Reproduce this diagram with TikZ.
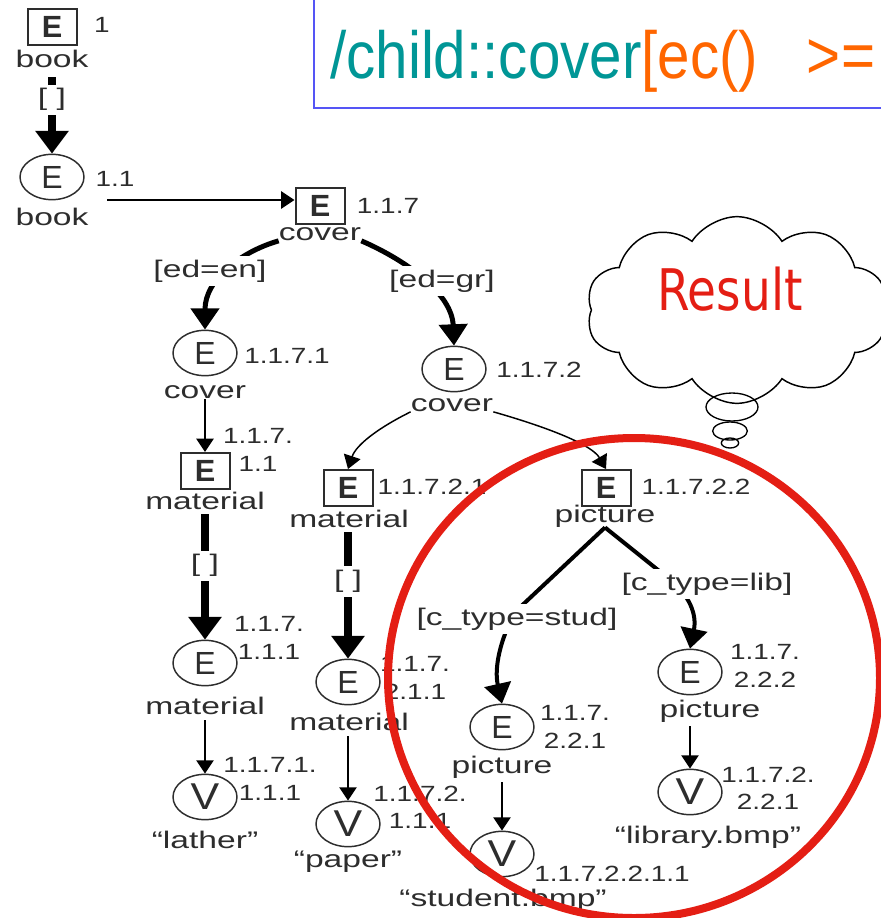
\documentclass[tikz,border=0pt]{standalone}
\usepackage{fontspec}
\setmainfont{Liberation Sans}
\newfontfamily\resultfont{DejaVu Sans}
\usepackage{graphicx}
\usetikzlibrary{arrows.meta,shapes.geometric,shapes.symbols}

% horizontally widened tree labels and node numbers
\newcommand{\wl}[1]{\scalebox{1.4}[1]{#1}}
\newcommand{\wn}[1]{\scalebox{1.27}[1]{#1}}

\definecolor{rred}{RGB}{228,30,20}
\definecolor{qteal}{RGB}{0,150,150}
\definecolor{qorange}{RGB}{255,102,0}
\definecolor{qblue}{RGB}{85,85,245}
\definecolor{ink}{RGB}{45,45,45}

\begin{document}
\begin{tikzpicture}[x=0.75pt,y=-0.75pt,
  ebox/.style={draw=ink, line width=1.5pt, minimum width=36.75pt, minimum height=27pt,
    inner sep=0pt, text=ink, font=\fontsize{23}{23}\selectfont\bfseries},
  ecirc/.style={ellipse, draw=ink, line width=1.1pt, minimum width=48pt, minimum height=34pt,
    inner sep=0pt, text=ink, font=\fontsize{24}{24}\selectfont},
  vcirc/.style={ecirc, font=\fontsize{28}{28}\selectfont},
  tag/.style={text=ink, inner sep=0pt, font=\fontsize{18}{18}\selectfont},
  num/.style={text=ink, inner sep=0pt, align=center, font=\fontsize{16.5}{20.5}\selectfont},
  cond/.style={tag, fill=white, inner xsep=2pt, inner ysep=3pt},
  thinarrow/.style={draw=black, line width=1.1pt, -{Triangle[width=13pt,length=10pt]}},
  heavy/.style={draw=black, line width=6pt, shorten <=3pt, -{Triangle[width=24pt,length=17pt]}},
  bent/.style={draw=black, line width=3.75pt, -{Triangle[width=21pt,length=16pt]}},
  branch/.style={draw=black, line width=3pt, -{Triangle[width=20pt,length=15pt]}},
  bubble/.style={ellipse, draw=black, line width=1pt, inner sep=0pt}
]
\useasboundingbox (0,0) rectangle (881,918);
\clip (0,0) rectangle (881,918);
\fill[white] (0,0) rectangle (881,918);

% query banner
\node[draw=qblue, line width=1.5pt, fill=white, anchor=north west,
      minimum width=450pt, minimum height=95.25pt, inner sep=0pt] (banner) at (313,-20) {};
\node[anchor=base west, inner sep=0pt, font=\fontsize{50}{50}\selectfont] (query) at (330,78)
  {\scalebox{0.875}[1]{\textcolor{qteal}{/child::cover}\textcolor{qorange}{[ec()\hspace{28pt} >=}}};

% thought cloud
\node[cloud, draw=black, line width=1.1pt, fill=white, cloud puffs=10, cloud puff arc=115,
      aspect=1.7, minimum width=226pt, minimum height=140pt, inner sep=0pt] (cloud) at (737,310) {};
\node[text=rred, inner sep=0pt, font=\resultfont\fontsize{43}{43}\selectfont] (result) at (730,289)
  {\scalebox{0.82}[1]{Result}};
\node[bubble, minimum width=39pt, minimum height=21pt] (bub1) at (732,407) {};
\node[bubble, minimum width=26pt, minimum height=13.5pt] (bub2) at (730,431) {};
\node[bubble, minimum width=13pt, minimum height=7.5pt] (bub3) at (730,443) {};

% ---- tree nodes ----
\node[ebox] (n1) at (52,27) {E};
\node[tag] (t1) at (52,59) {\wl{book}};
\node[num] (l1) at (102,25) {\wn{1}};

\node[ecirc] (n11) at (52,177) {E};
\node[tag] (t11) at (52,217) {\wl{book}};
\node[num] (l11) at (115,179) {\wn{1.1}};

\node[ebox] (n117) at (320,206) {E};
\node[tag] (t117) at (320,234) {\wl{cover}};
\node[num] (l117) at (388,206) {\wn{1.1.7}};

\node[ecirc] (n1171) at (205,353) {E};
\node[tag] (t1171) at (205,392) {\wl{cover}};
\node[num] (l1171) at (287,356) {\wn{1.1.7.1}};

\node[ecirc] (n1172) at (454,369) {E};
\node[tag] (t1172) at (452,405) {\wl{cover}};
\node[num] (l1172) at (539,370) {\wn{1.1.7.2}};

% left column
\node[ebox] (n11711) at (205,471) {E};
\node[tag] (t11711) at (205,501) {\wl{material}};
\node[num] (l11711) at (258,450) {\wn{1.1.7.}\\\wn{1.1}};

\node[ecirc] (n117111) at (205,663) {E};
\node[tag] (t117111) at (205,706) {\wl{material}};
\node[num] (l117111) at (269,638) {\wn{1.1.7.}\\\wn{1.1.1}};

\node[vcirc] (n1171111) at (205,797) {\scalebox{1.15}[1]{V}};
\node[tag] (t1171111) at (205,840) {\wl{“lather”}};
\node[num] (l1171111) at (270,779) {\wn{1.1.7.1.}\\\wn{1.1.1}};

% middle column
\node[ebox] (n11721) at (348,488) {E};
\node[tag] (t11721) at (349,519) {\wl{material}};
\node[num] (l11721) at (432,487) {\wn{1.1.7.2.1}};

\node[ecirc] (n117211) at (348,682) {E};
\node[tag] (t117211) at (349,722) {\wl{material}};
\node[num] (l117211) at (415,678) {\wn{1.1.7.}\\\wn{2.1.1}};

\node[vcirc] (n1172111) at (348,824) {\scalebox{1.15}[1]{V}};
\node[tag] (t1172111) at (348,862) {\wl{“paper”}};
\node[num] (l1172111) at (420,807) {\wn{1.1.7.2.}\\\wn{1.1.1}};

% picture subtree
\node[ebox] (n11722) at (606,488) {E};
\node[tag] (t11722) at (605,516) {\wl{picture}};
\node[num] (l11722) at (696,487) {\wn{1.1.7.2.2}};

\node[ecirc] (n117221) at (502,727) {E};
\node[tag] (t117221) at (502,767) {\wl{picture}};
\node[num] (l117221) at (575,727) {\wn{1.1.7.}\\\wn{2.2.1}};

\node[vcirc] (n1172211) at (502,854) {\scalebox{1.15}[1]{V}};
\node[tag] (t1172211) at (503,900) {\wl{“student.bmp”}};
\node[num] (l1172211) at (612,874) {\wn{1.1.7.2.2.1.1}};

\node[ecirc] (n117222) at (690,672) {E};
\node[tag] (t117222) at (710,711) {\wl{picture}};
\node[num] (l117222) at (765,666) {\wn{1.1.7.}\\\wn{2.2.2}};

\node[vcirc] (n1172221) at (690,792) {\scalebox{1.15}[1]{V}};
\node[tag] (t1172221) at (708,837) {\wl{“library.bmp”}};
\node[num] (l1172221) at (768,788) {\wn{1.1.7.2.}\\\wn{2.2.1}};

% ---- connectors ----
\draw[heavy, shorten <=7pt] (t1.south) -- node[cond, pos=0.37] (c1) {\wl{[ ]}} (n11.north);

\path ([xshift=14pt]t11.east) coordinate (hs);
\coordinate (hin) at ([yshift=4.5pt]n117.west);
\draw[thinarrow] (hs |- hin) -- (hin);

\draw[bent] (t117.south west) .. controls (240,252) and (205,280) .. (n1171.north);
\node[cond] (cen) at (210,271) {\wl{[ed=en]}};
\draw[bent] (t117.south east) .. controls (410,262) and (452,295) .. (n1172.north);
\node[cond] (cgr) at (442,281) {\wl{[ed=gr]}};

\draw[thinarrow] (t1171.south) -- (n11711.north);
\draw[heavy] (t11711.south) -- node[cond, pos=0.43] (c2) {\wl{[ ]}} (n117111.north);
\draw[thinarrow, shorten <=4pt] (t117111.south) -- (n1171111.north);

\draw[thinarrow] (t1172.south west) .. controls (378,428) and (356,445) .. (n11721.north);
\draw[thinarrow] (t1172.south east) .. controls (550,428) and (592,445) .. (n11722.north);

\draw[heavy] (t11721.south -| n11721.south) -- node[cond, pos=0.41] (c3) {\wl{[ ]}} (n117211.north);
\draw[thinarrow, shorten <=4pt] (t117211.south -| n117211.south) -- (n1172111.north);

\draw[branch] (t11722.south) -- (515,612) .. controls (500,640) and (494,668) .. (n117221.north);
\node[cond] (cstud) at (517,619) {\wl{[c\_type=stud]}};
\draw[branch] (t11722.south) -- (668,578) .. controls (690,595) and (697,615) .. (n117222.north);
\node[cond] (clib) at (707,584) {\wl{[c\_type=lib]}};

\draw[thinarrow, shorten <=3pt] (t117221.south) -- (n1172211.north);
\draw[thinarrow, shorten <=3pt] (t117222.south -| n1172221.north) -- (n1172221.north);

% result ring
\node[ellipse, draw=rred, line width=6pt, minimum width=369pt, minimum height=360pt, inner sep=0pt]
  (ring) at (634,678) {};
\end{tikzpicture}
\end{document}
